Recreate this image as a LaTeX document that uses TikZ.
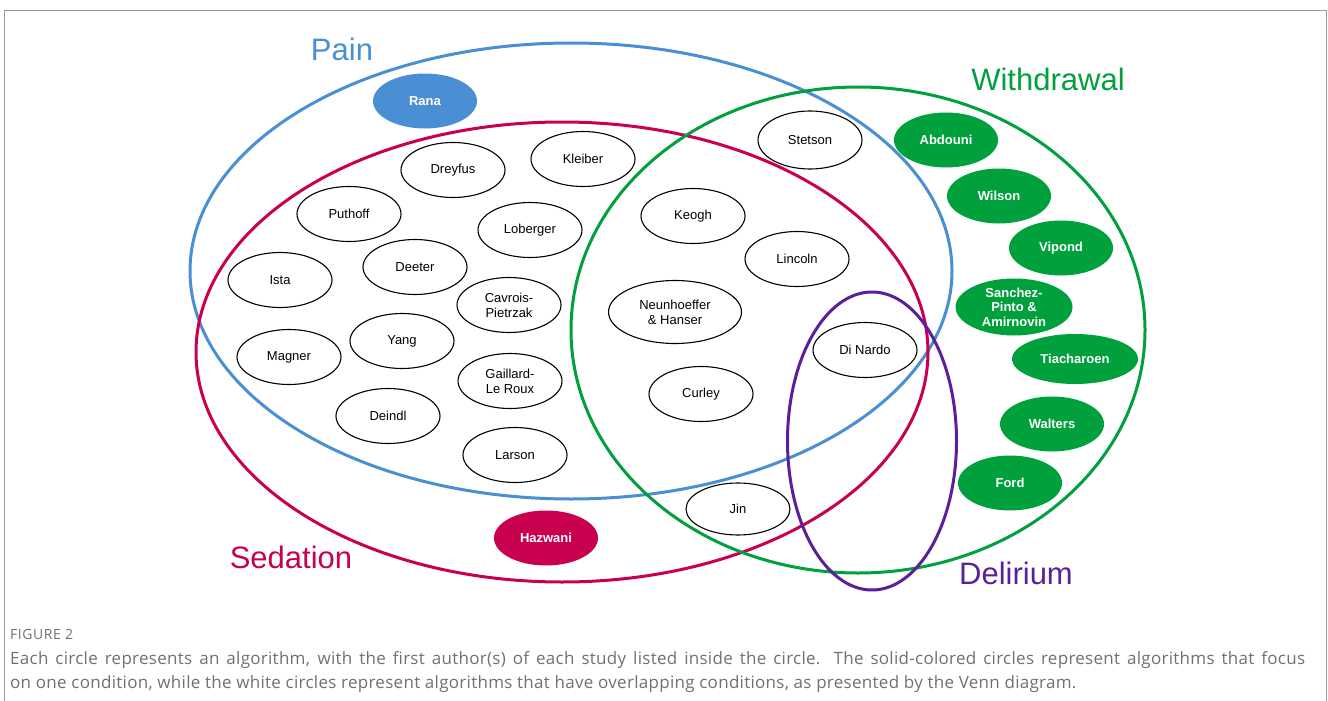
\documentclass[tikz,border=0pt]{standalone}
\usepackage{fontspec}
\setmainfont{Liberation Sans}
\newfontfamily\capfont[LetterSpace=1.7]{Open Sans}
\newfontfamily\figfont[LetterSpace=4]{Open Sans}
\usetikzlibrary{shapes.geometric}
\definecolor{painblue}{HTML}{4A8ED4}
\definecolor{sedred}{HTML}{C8004F}
\definecolor{wdgreen}{HTML}{00A03C}
\definecolor{delpurple}{HTML}{5A1F9A}
\definecolor{capgray}{HTML}{707070}
\definecolor{framegray}{HTML}{9A9A9A}
\begin{document}
\begin{tikzpicture}[x=1pt,y=-1pt,
  venn/.style={ellipse, line width=3pt, inner sep=0pt, outer sep=0pt},
  auth/.style={ellipse, draw=black, line width=1.1pt, fill=white, minimum width=104pt, minimum height=55pt, inner sep=0pt, align=center, font=\fontsize{13}{15}\selectfont},
  solidauth/.style={auth, draw=none, text=white, font=\bfseries\fontsize{13}{14.5}\selectfont},
  setlabel/.style={font=\fontsize{31}{34}\selectfont, inner sep=0pt},
  captext/.style={anchor=base west, inner sep=0pt, text=capgray, font=\capfont\fontsize{17}{19}\selectfont}]
\useasboundingbox (0,0) rectangle (1328,701);
\draw[framegray, line width=1pt] (4.5,701) -- (4.5,10.5) -- (1326,10.5) -- (1326,701);

% set ellipses
\node[venn, draw=painblue, minimum width=762pt, minimum height=456pt] (pain) at (571,271) {};
\node[venn, draw=sedred, minimum width=732pt, minimum height=460pt] (sedation) at (562,352) {};
\node[venn, draw=wdgreen, minimum width=574pt, minimum height=486pt] (withdrawal) at (858,330) {};
\node[venn, draw=delpurple, minimum width=169pt, minimum height=298pt] (delirium) at (872,441) {};

% set labels
\node[setlabel, text=painblue] (lpain) at (342,49) {Pain};
\node[setlabel, text=wdgreen] (lwd) at (1048,79) {Withdrawal};
\node[setlabel, text=sedred] (lsed) at (291,557) {Sedation};
\node[setlabel, text=delpurple] (ldel) at (1016,573) {Delirium};

% single-condition algorithms
\node[solidauth, fill=painblue] (rana) at (425,101) {Rana};
\node[solidauth, fill=sedred] (hazwani) at (546,538) {Hazwani};
\node[solidauth, fill=wdgreen] (abdouni) at (946,140) {Abdouni};
\node[solidauth, fill=wdgreen] (wilson) at (999,196) {Wilson};
\node[solidauth, fill=wdgreen] (vipond) at (1061,248) {Vipond};
\node[solidauth, fill=wdgreen, minimum width=117pt, minimum height=57pt] (sanchez) at (1014,307) {Sanchez-\\Pinto \&\\Amirnovin};
\node[solidauth, fill=wdgreen, minimum width=126pt, minimum height=50pt] (tiacharoen) at (1075,359) {Tiacharoen};
\node[solidauth, fill=wdgreen] (walters) at (1052,424) {Walters};
\node[solidauth, fill=wdgreen] (ford) at (1010,483) {Ford};

% overlapping algorithms
\node[auth] (dreyfus) at (453,170) {Dreyfus};
\node[auth] (kleiber) at (583,159) {Kleiber};
\node[auth] (puthoff) at (349,214) {Puthoff};
\node[auth] (loberger) at (530,230) {Loberger};
\node[auth] (ista) at (280,280) {Ista};
\node[auth] (deeter) at (415,267) {Deeter};
\node[auth] (cavrois) at (509,305) {Cavrois-\\Pietrzak};
\node[auth] (magner) at (289,357) {Magner};
\node[auth] (yang) at (402,341) {Yang};
\node[auth] (gaillard) at (510,381) {Gaillard-\\Le Roux};
\node[auth] (deindl) at (388,416) {Deindl};
\node[auth] (larson) at (515,455) {Larson};
\node[auth, minimum height=58pt] (stetson) at (810,140) {Stetson};
\node[auth] (keogh) at (693,216) {Keogh};
\node[auth] (lincoln) at (797,259) {Lincoln};
\node[auth, minimum width=133pt, minimum height=63pt] (neun) at (675,312) {Neunhoeffer\\\& Hanser};
\node[auth] (curley) at (701,394) {Curley};
\node[auth] (dinardo) at (865,350) {Di Nardo};
\node[auth, minimum height=52pt] (jin) at (738,509) {Jin};

% caption
\node[captext, font=\figfont\fontsize{14}{15}\selectfont] (fig) at (10,639) {FIGURE 2};
\node[captext] (cap1) at (10,664) {\makebox[1295pt][s]{Each circle represents an algorithm, with the first author(s) of each study listed inside the circle. The solid-colored circles represent algorithms that focus}};
\node[captext] (cap2) at (10,688) {on one condition, while the white circles represent algorithms that have overlapping conditions, as presented by the Venn diagram.};
\end{tikzpicture}
\end{document}
